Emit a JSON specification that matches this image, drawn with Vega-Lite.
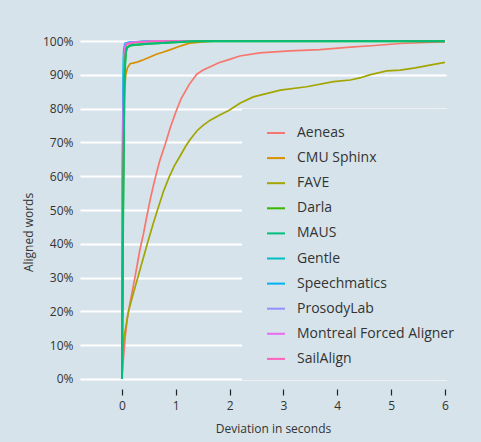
{
  "$schema": "https://vega.github.io/schema/vega-lite/v6.json",
  "width": 366,
  "height": 358,
  "autosize": {"type": "none"},
  "padding": {"left": 80, "top": 31, "right": 35, "bottom": 53},
  "background": "#d6e3ea",
  "config": {
    "view": {"stroke": null},
    "font": "Open Sans",
    "legend": {
      "orient": "none",
      "legendX": 162,
      "legendY": 78,
      "fillColor": "#d6e3ea",
      "padding": 14,
      "symbolOffset": 10,
      "symbolType": "stroke",
      "symbolSize": 324,
      "symbolStrokeWidth": 2,
      "labelFontSize": 14,
      "labelColor": "#333333",
      "labelOffset": 11,
      "rowPadding": 8.1,
      "labelLimit": 300,
      "title": null
    }
  },
  "data": {
    "values": [
      {"a": "Aeneas", "x": 0, "y": 0},
      {"a": "Aeneas", "x": 0.02, "y": 4.7},
      {"a": "Aeneas", "x": 0.06, "y": 12.4},
      {"a": "Aeneas", "x": 0.1, "y": 18},
      {"a": "Aeneas", "x": 0.15, "y": 22.5},
      {"a": "Aeneas", "x": 0.24, "y": 30},
      {"a": "Aeneas", "x": 0.33, "y": 38},
      {"a": "Aeneas", "x": 0.4, "y": 43},
      {"a": "Aeneas", "x": 0.46, "y": 48},
      {"a": "Aeneas", "x": 0.53, "y": 53.5},
      {"a": "Aeneas", "x": 0.61, "y": 59},
      {"a": "Aeneas", "x": 0.7, "y": 64.5},
      {"a": "Aeneas", "x": 0.8, "y": 69.3},
      {"a": "Aeneas", "x": 0.9, "y": 74.5},
      {"a": "Aeneas", "x": 1.0, "y": 79},
      {"a": "Aeneas", "x": 1.1, "y": 83},
      {"a": "Aeneas", "x": 1.25, "y": 87.2},
      {"a": "Aeneas", "x": 1.39, "y": 90.2},
      {"a": "Aeneas", "x": 1.5, "y": 91.4},
      {"a": "Aeneas", "x": 1.64, "y": 92.4},
      {"a": "Aeneas", "x": 1.8, "y": 93.6},
      {"a": "Aeneas", "x": 2.0, "y": 94.6},
      {"a": "Aeneas", "x": 2.19, "y": 95.6},
      {"a": "Aeneas", "x": 2.56, "y": 96.5},
      {"a": "Aeneas", "x": 3.12, "y": 97.1},
      {"a": "Aeneas", "x": 3.68, "y": 97.5},
      {"a": "Aeneas", "x": 4.24, "y": 98.2},
      {"a": "Aeneas", "x": 4.7, "y": 98.7},
      {"a": "Aeneas", "x": 5.17, "y": 99.3},
      {"a": "Aeneas", "x": 5.66, "y": 99.6},
      {"a": "Aeneas", "x": 6.0, "y": 99.8},
      {"a": "CMU Sphinx", "x": 0, "y": 0},
      {"a": "CMU Sphinx", "x": 0.03, "y": 80},
      {"a": "CMU Sphinx", "x": 0.05, "y": 86},
      {"a": "CMU Sphinx", "x": 0.07, "y": 90},
      {"a": "CMU Sphinx", "x": 0.1, "y": 92},
      {"a": "CMU Sphinx", "x": 0.15, "y": 93.3},
      {"a": "CMU Sphinx", "x": 0.28, "y": 93.8},
      {"a": "CMU Sphinx", "x": 0.4, "y": 94.5},
      {"a": "CMU Sphinx", "x": 0.52, "y": 95.3},
      {"a": "CMU Sphinx", "x": 0.65, "y": 96.2},
      {"a": "CMU Sphinx", "x": 0.76, "y": 96.7},
      {"a": "CMU Sphinx", "x": 0.9, "y": 97.5},
      {"a": "CMU Sphinx", "x": 1.02, "y": 98.2},
      {"a": "CMU Sphinx", "x": 1.15, "y": 98.9},
      {"a": "CMU Sphinx", "x": 1.26, "y": 99.4},
      {"a": "CMU Sphinx", "x": 1.5, "y": 99.8},
      {"a": "CMU Sphinx", "x": 1.7, "y": 100},
      {"a": "CMU Sphinx", "x": 6.0, "y": 100},
      {"a": "FAVE", "x": 0, "y": 0},
      {"a": "FAVE", "x": 0.02, "y": 9.5},
      {"a": "FAVE", "x": 0.04, "y": 12.5},
      {"a": "FAVE", "x": 0.12, "y": 20},
      {"a": "FAVE", "x": 0.24, "y": 27},
      {"a": "FAVE", "x": 0.32, "y": 31.5},
      {"a": "FAVE", "x": 0.4, "y": 36},
      {"a": "FAVE", "x": 0.48, "y": 40.5},
      {"a": "FAVE", "x": 0.58, "y": 46},
      {"a": "FAVE", "x": 0.67, "y": 50.5},
      {"a": "FAVE", "x": 0.77, "y": 55.5},
      {"a": "FAVE", "x": 0.87, "y": 59.5},
      {"a": "FAVE", "x": 0.97, "y": 63},
      {"a": "FAVE", "x": 1.08, "y": 66},
      {"a": "FAVE", "x": 1.18, "y": 68.8},
      {"a": "FAVE", "x": 1.26, "y": 70.7},
      {"a": "FAVE", "x": 1.39, "y": 73.4},
      {"a": "FAVE", "x": 1.5, "y": 75},
      {"a": "FAVE", "x": 1.64, "y": 76.6},
      {"a": "FAVE", "x": 1.8, "y": 78},
      {"a": "FAVE", "x": 2.0, "y": 79.6},
      {"a": "FAVE", "x": 2.19, "y": 81.6},
      {"a": "FAVE", "x": 2.44, "y": 83.5},
      {"a": "FAVE", "x": 2.94, "y": 85.5},
      {"a": "FAVE", "x": 3.43, "y": 86.5},
      {"a": "FAVE", "x": 3.93, "y": 88},
      {"a": "FAVE", "x": 4.24, "y": 88.5},
      {"a": "FAVE", "x": 4.42, "y": 89.1},
      {"a": "FAVE", "x": 4.6, "y": 90},
      {"a": "FAVE", "x": 4.92, "y": 91.2},
      {"a": "FAVE", "x": 5.17, "y": 91.4},
      {"a": "FAVE", "x": 5.45, "y": 92.1},
      {"a": "FAVE", "x": 5.72, "y": 92.9},
      {"a": "FAVE", "x": 6.0, "y": 93.7},
      {"a": "Gentle", "x": 0, "y": 0},
      {"a": "Gentle", "x": 0.01, "y": 60},
      {"a": "Gentle", "x": 0.03, "y": 95},
      {"a": "Gentle", "x": 0.05, "y": 99},
      {"a": "Gentle", "x": 0.1, "y": 99.6},
      {"a": "Gentle", "x": 0.4, "y": 99.9},
      {"a": "Gentle", "x": 0.8, "y": 100},
      {"a": "Gentle", "x": 6.0, "y": 100},
      {"a": "Speechmatics", "x": 0, "y": 0},
      {"a": "Speechmatics", "x": 0.01, "y": 70},
      {"a": "Speechmatics", "x": 0.03, "y": 97},
      {"a": "Speechmatics", "x": 0.06, "y": 99.4},
      {"a": "Speechmatics", "x": 0.15, "y": 99.7},
      {"a": "Speechmatics", "x": 0.5, "y": 100},
      {"a": "Speechmatics", "x": 6.0, "y": 100},
      {"a": "ProsodyLab", "x": 0, "y": 0},
      {"a": "ProsodyLab", "x": 0.015, "y": 60},
      {"a": "ProsodyLab", "x": 0.04, "y": 96},
      {"a": "ProsodyLab", "x": 0.07, "y": 99.2},
      {"a": "ProsodyLab", "x": 0.2, "y": 99.6},
      {"a": "ProsodyLab", "x": 0.6, "y": 100},
      {"a": "ProsodyLab", "x": 6.0, "y": 100},
      {"a": "Montreal Forced Aligner", "x": 0, "y": 0},
      {"a": "Montreal Forced Aligner", "x": 0.015, "y": 65},
      {"a": "Montreal Forced Aligner", "x": 0.04, "y": 96.5},
      {"a": "Montreal Forced Aligner", "x": 0.07, "y": 99.2},
      {"a": "Montreal Forced Aligner", "x": 0.2, "y": 99.7},
      {"a": "Montreal Forced Aligner", "x": 0.6, "y": 100},
      {"a": "Montreal Forced Aligner", "x": 6.0, "y": 100},
      {"a": "SailAlign", "x": 0, "y": 0},
      {"a": "SailAlign", "x": 0.02, "y": 55},
      {"a": "SailAlign", "x": 0.04, "y": 95},
      {"a": "SailAlign", "x": 0.08, "y": 99},
      {"a": "SailAlign", "x": 0.3, "y": 99.7},
      {"a": "SailAlign", "x": 0.7, "y": 100},
      {"a": "SailAlign", "x": 6.0, "y": 100},
      {"a": "Darla", "x": 0, "y": 0},
      {"a": "Darla", "x": 0.02, "y": 50},
      {"a": "Darla", "x": 0.05, "y": 92},
      {"a": "Darla", "x": 0.08, "y": 97.8},
      {"a": "Darla", "x": 0.15, "y": 98.7},
      {"a": "Darla", "x": 0.5, "y": 99.2},
      {"a": "Darla", "x": 1.0, "y": 99.7},
      {"a": "Darla", "x": 1.4, "y": 100},
      {"a": "Darla", "x": 6.0, "y": 100},
      {"a": "MAUS", "x": 0, "y": 0},
      {"a": "MAUS", "x": 0.02, "y": 45},
      {"a": "MAUS", "x": 0.045, "y": 88},
      {"a": "MAUS", "x": 0.07, "y": 96.5},
      {"a": "MAUS", "x": 0.1, "y": 98.3},
      {"a": "MAUS", "x": 0.2, "y": 98.9},
      {"a": "MAUS", "x": 0.5, "y": 99.2},
      {"a": "MAUS", "x": 0.9, "y": 99.6},
      {"a": "MAUS", "x": 1.3, "y": 100},
      {"a": "MAUS", "x": 6.0, "y": 100}
    ]
  },
  "encoding": {
    "x": {
      "field": "x",
      "type": "quantitative",
      "scale": {"domain": [-0.78, 6.02], "nice": false, "zero": false},
      "axis": {
        "values": [0, 1, 2, 3, 4, 5, 6],
        "grid": false,
        "domain": false,
        "tickColor": "#222222",
        "tickSize": 6,
        "tickWidth": 1.2,
        "labelPadding": 5,
        "labelFontSize": 12,
        "labelColor": "#333333",
        "title": "Deviation in seconds",
        "titleFontSize": 12,
        "titleFontWeight": "normal",
        "titleColor": "#333333",
        "titleX": 193,
        "titleY": 34
      }
    },
    "y": {
      "field": "y",
      "type": "quantitative",
      "scale": {"domain": [-3, 103], "nice": false},
      "axis": {
        "values": [0, 10, 20, 30, 40, 50, 60, 70, 80, 90, 100],
        "labelExpr": "datum.value + '%'",
        "grid": true,
        "gridColor": "#ffffff",
        "gridWidth": 2,
        "gridOpacity": 1,
        "ticks": false,
        "domain": false,
        "labelPadding": 7,
        "labelFontSize": 12,
        "labelColor": "#333333",
        "title": "Aligned words",
        "titleFontSize": 12,
        "titleFontWeight": "normal",
        "titleColor": "#333333",
        "titleX": -45,
        "titleY": 201
      }
    },
    "color": {
      "field": "a",
      "type": "nominal",
      "scale": {
        "domain": ["Aeneas", "CMU Sphinx", "FAVE", "Darla", "MAUS", "Gentle", "Speechmatics", "ProsodyLab", "Montreal Forced Aligner", "SailAlign"],
        "range": ["#F8766D", "#D89000", "#A3A500", "#39B600", "#00BF7D", "#00BFC4", "#00B0F6", "#9590FF", "#E76BF3", "#FF62BC"]
      }
    }
  },
  "layer": [
    {
      "transform": [{"filter": "datum.a !== 'Darla' && datum.a !== 'MAUS'"}],
      "mark": {"type": "line", "strokeWidth": 1.7, "clip": true}
    },
    {
      "transform": [{"filter": "datum.a === 'Darla' || datum.a === 'MAUS'"}],
      "mark": {"type": "line", "strokeWidth": 2, "clip": true}
    }
  ]
}
